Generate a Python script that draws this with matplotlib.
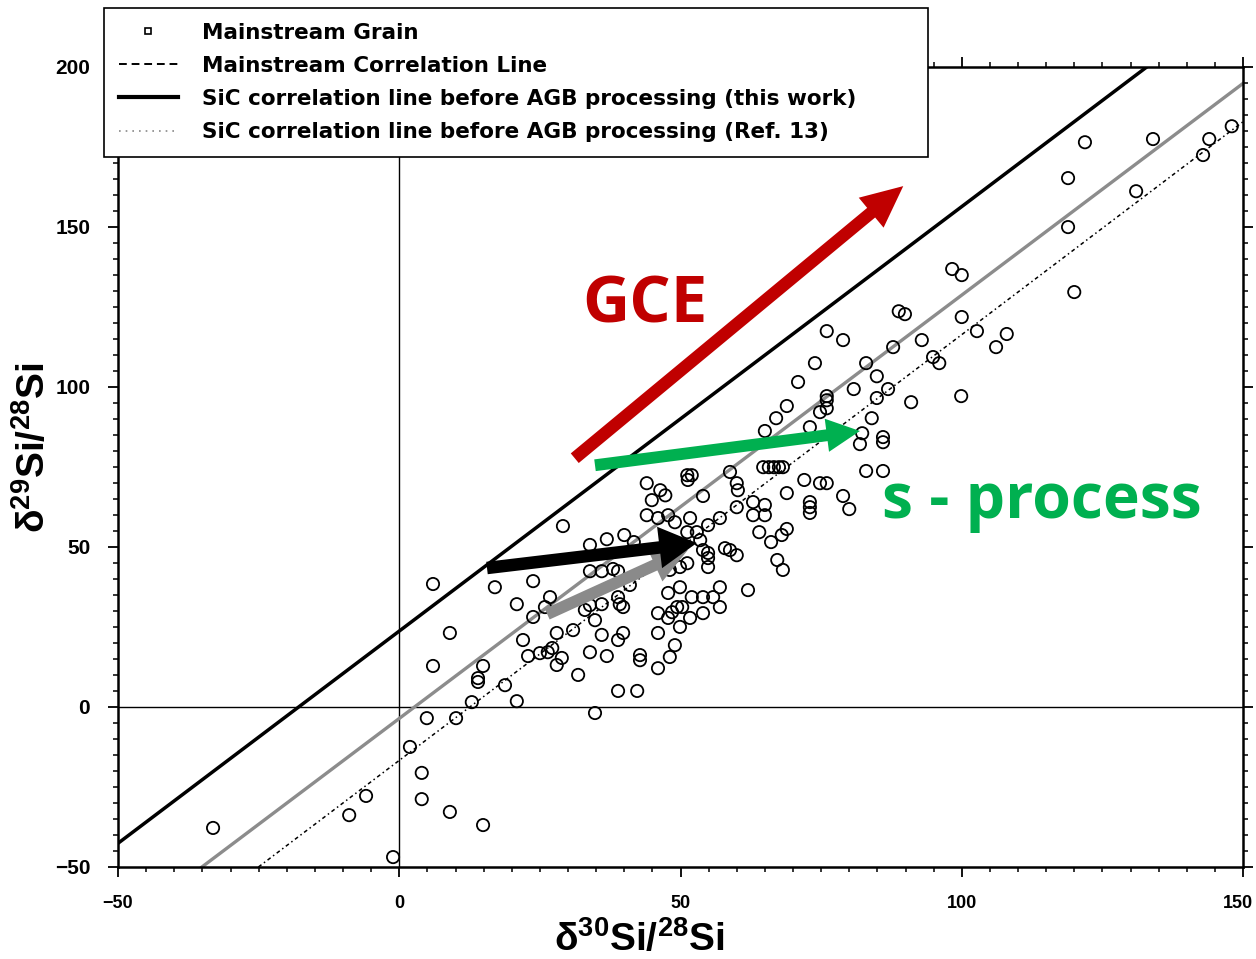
import numpy as np
import matplotlib
matplotlib.use('Agg')
import matplotlib.pyplot as plt
from matplotlib.lines import Line2D
from matplotlib.ticker import MultipleLocator
from matplotlib.transforms import ScaledTranslation

# ---------------- data ----------------
x30 = [6.0, 17.0, 9.0, 6.0, 14.9, 14.0, 14.0, 12.9, 4.9, 10.1, 1.9, 4.0, 4.0, 9.0, 14.9, -5.9, -8.9, -33.1, -1.1,
       29.1, 33.9, 36.9, 40.0, 41.7, 33.9, 36.0, 38.0, 38.9, 23.8, 41.0, 20.9, 26.8, 25.9, 23.8, 33.0, 33.9, 36.0,
       38.9, 39.2, 39.8, 34.8, 30.9, 28.0, 22.0, 36.0, 39.8, 38.9, 22.9, 25.0, 26.4, 27.2, 28.9, 28.0, 33.9, 36.9,
       31.8, 18.8, 20.9, 38.9, 42.3, 34.8,
       44.0, 46.4, 47.3, 44.9, 51.2, 52.0, 51.3, 58.8, 60.0, 60.2, 54.0, 60.0, 62.9, 65.0, 62.9, 65.0, 44.0, 46.0,
       47.8, 49.0, 51.7, 54.9, 57.0, 51.2, 52.9, 53.5, 54.0, 54.9, 54.9, 54.9, 57.9, 58.8, 60.0, 51.2, 49.9, 48.1,
       49.9, 47.8, 52.0, 54.0, 55.8, 57.0, 57.0, 49.4, 48.5, 50.3, 46.0, 51.7, 54.0, 49.9, 47.8, 62.0, 46.0, 49.0,
       48.1, 42.8, 42.8, 46.0,
       88.8, 89.9, 100.0, 76.0, 78.9, 92.9, 87.8, 102.7, 73.9, 83.0, 94.9, 96.0, 70.9, 84.9, 80.8, 86.9, 76.0, 76.0,
       76.0, 74.8, 84.9, 91.0, 99.9, 68.9, 67.0, 84.0, 73.0, 65.0, 82.3, 81.9, 86.0, 86.0, 64.7, 65.7, 66.6, 67.5,
       68.2, 83.0, 86.0, 72.0, 74.8, 76.0, 68.9, 78.9, 80.0, 73.0, 73.0, 73.0, 64.0, 68.9, 68.0, 66.1, 67.2, 68.2,
       121.9, 134.0, 144.0, 148.0, 142.9, 118.9, 131.0, 118.9, 98.3, 100.0, 120.0, 108.0, 106.1]
y29 = [38.4, 37.4, 23.1, 12.8, 12.8, 9.0, 7.8, 1.5, -3.5, -3.5, -12.5, -20.6, -28.8, -32.8, -36.9, -27.8, -33.8, -37.8, -46.9,
       56.5, 50.6, 52.4, 53.7, 51.5, 42.4, 42.4, 43.1, 42.4, 39.3, 38.1, 32.1, 34.3, 31.2, 28.1, 30.3, 31.8, 32.1,
       34.3, 32.1, 31.2, 27.1, 24.0, 23.1, 20.9, 22.5, 23.1, 20.9, 15.9, 16.8, 17.1, 18.4, 15.3, 13.1, 17.1, 15.9,
       10.0, 6.8, 1.8, 5.0, 5.0, -1.9,
       69.9, 67.7, 66.1, 64.6, 72.4, 72.4, 70.9, 73.4, 69.9, 67.7, 65.9, 62.4, 64.0, 63.1, 59.9, 59.9, 59.9, 59.0,
       59.9, 57.7, 59.0, 56.8, 59.0, 54.6, 54.6, 52.1, 49.0, 48.1, 46.5, 43.7, 49.6, 49.0, 47.4, 44.9, 43.7, 42.8,
       37.4, 35.6, 34.3, 34.3, 34.3, 37.4, 31.2, 31.2, 29.6, 31.2, 29.3, 27.8, 29.3, 25.0, 27.8, 36.5, 23.1, 19.3,
       15.6, 16.2, 14.6, 12.1,
       123.6, 122.7, 121.8, 117.4, 114.6, 114.6, 112.4, 117.4, 107.4, 107.4, 109.3, 107.4, 101.5, 103.3, 99.3, 99.3, 97.1, 95.8,
       93.3, 92.1, 96.5, 95.2, 97.1, 94.0, 90.2, 90.2, 87.4, 86.2, 85.5, 82.1, 84.3, 82.7, 74.9, 74.9, 74.9, 74.9,
       74.9, 73.7, 73.7, 70.9, 69.9, 69.9, 66.8, 65.9, 61.8, 64.0, 62.4, 60.6, 54.6, 55.6, 53.7, 51.5, 45.9, 42.8,
       176.4, 177.4, 177.4, 181.4, 172.4, 165.2, 161.1, 149.9, 136.8, 134.9, 129.6, 116.5, 112.4]

# correlation lines (slope, intercept)
this_work_line = (1.326, 23.7)
gray_line = (1.3225, -3.6)
mainstream_line = (1.33, -16.7)

legend_labels = ["Mainstream Grain",
                 "Mainstream Correlation Line",
                 "SiC correlation line before AGB processing (this work)",
                 "SiC correlation line before AGB processing (Ref. 13)"]

# arrows: (tail, tip)
gce_arrow = ((31.2, 77.7), (89.6, 162.7))
s_arrow = ((34.8, 75.5), (81.9, 86.2))
black_arrow = ((15.6, 43.4), (52.9, 51.2))
gray_arrow = ((26.3, 29.0), (51.3, 49.0))

xticks = [-50, 0, 50, 100, 150]
yticks = [-50, 0, 50, 100, 150, 200]

# ---------------- style ----------------
plt.rcParams['font.family'] = ['Liberation Sans', 'DejaVu Sans']
plt.rcParams['font.weight'] = 'bold'
plt.rcParams['mathtext.default'] = 'regular'

W, H = 1256, 959
fig = plt.figure(figsize=(W / 100, H / 100), dpi=100)
ax = fig.add_axes([118 / W, 1 - 867 / H, (1243 - 118) / W, (867 - 66.7) / H])

ax.set_xlim(-50, 150)
ax.set_ylim(-50, 200)

ax.axhline(0, color='black', lw=1.0, zorder=1)
ax.axvline(0, color='black', lw=1.0, zorder=1)

ax.axline((0, this_work_line[1]), slope=this_work_line[0], color='black', lw=2.5, zorder=2)
ax.axline((0, gray_line[1]), slope=gray_line[0], color='#8c8c8c', lw=2.4, zorder=2)
ax.axline((0, mainstream_line[1]), slope=mainstream_line[0], color='black', lw=1.1,
          ls=(0, (2.5, 2, 1, 2)), zorder=2)

ax.scatter(x30, y29, s=78, facecolors='none', edgecolors='black', linewidths=1.3, zorder=3)


def arrow(tail, tip, color, tw, hw, hl, z):
    ax.annotate('', xy=tip, xytext=tail,
                arrowprops=dict(arrowstyle=f'simple,head_length={hl},head_width={hw},tail_width={tw}',
                                mutation_scale=1, fc=color, ec=color, lw=0, shrinkA=0, shrinkB=0),
                zorder=z)


arrow(*gce_arrow, '#C00000', 9.0, 28, 30, 6)
arrow(*s_arrow, '#00B050', 8.5, 24, 24, 6)
arrow(*gray_arrow, '#8a8a8a', 8.5, 26, 26, 6)
arrow(*black_arrow, 'black', 9.0, 30, 27, 7)

ax.text(43.7, 120.2, 'GCE', color='#C00000', fontsize=47, fontweight='bold',
        family='Open Sans', ha='center', va='baseline', zorder=8)
ax.text(114.3, 59.0, 's - process', color='#00B050', fontsize=45, fontweight='bold',
        family='Open Sans', ha='center', va='baseline', zorder=8)

# ticks
ax.xaxis.set_minor_locator(MultipleLocator(5))
ax.yaxis.set_minor_locator(MultipleLocator(5))
ax.set_xticks(xticks)
ax.set_yticks(yticks)
ax.tick_params(which='both', direction='out', top=True, right=True, labeltop=False, labelright=False)
ax.tick_params(which='major', length=7, width=1.3, pad=13)
ax.tick_params(axis='x', which='major', labelsize=13)
ax.tick_params(axis='y', which='major', labelsize=15)
ax.tick_params(which='minor', length=3.5, width=1.1)
for sp in ax.spines.values():
    sp.set_linewidth(1.8)

# keep the last x tick label inside the figure
last = ax.get_xticklabels()[-1]
last.set_transform(last.get_transform() + ScaledTranslation(-4 / 72, 0, fig.dpi_scale_trans))

ax.set_xlabel('δ$^{30}$Si/$^{28}$Si', fontsize=28, fontweight='bold')
ax.xaxis.set_label_coords(0.463, -0.066)
ax.set_ylabel('δ$^{29}$Si/$^{28}$Si', fontsize=28, fontweight='bold')
ax.yaxis.set_label_coords(-0.058, 0.524)

# legend
handles = [
    Line2D([], [], marker='s', ms=5, mfc='white', mec='black', mew=1.2, ls='none'),
    Line2D([], [], color='black', lw=1.4, ls=(0, (4, 2.5))),
    Line2D([], [], color='black', lw=3.0),
    Line2D([], [], color='#888888', lw=1.2, ls=(0, (1, 3))),
]
leg = ax.legend(handles, legend_labels, loc='upper left',
                bbox_to_anchor=(104 / W, 1 - 156 / H, (928 - 104) / W, (156 - 8) / H),
                bbox_transform=fig.transFigure, mode='expand', borderaxespad=0,
                prop={'family': 'DejaVu Sans', 'weight': 'bold', 'size': 15.5},
                frameon=True, fancybox=False, framealpha=1, edgecolor='black',
                borderpad=0.68, handlelength=2.76, handletextpad=1.1, labelspacing=0.61,
                numpoints=1)
leg.get_frame().set_linewidth(1.2)
leg.set_zorder(10)

fig.savefig('out.png', dpi=100)
